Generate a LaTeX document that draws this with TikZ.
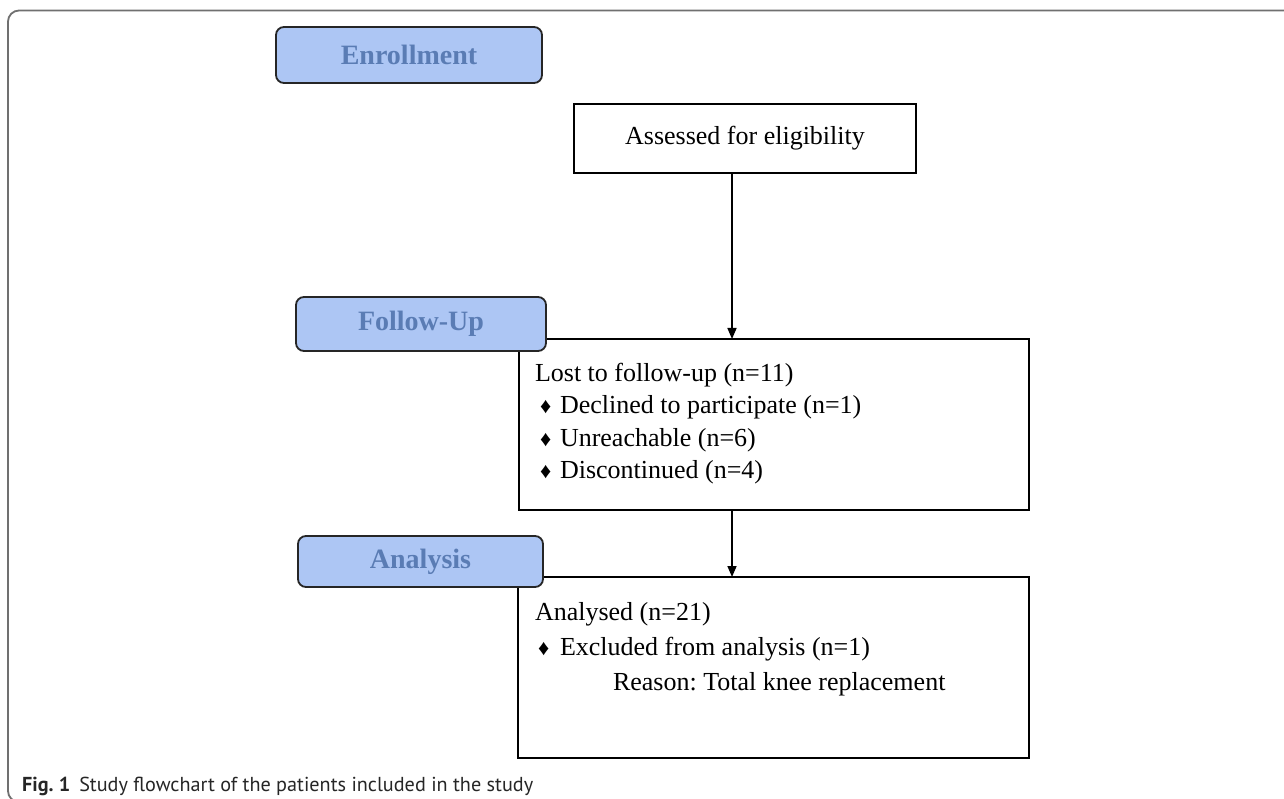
\documentclass[tikz,border=0pt]{standalone}
\usepackage{fontspec}
\setmainfont{Liberation Serif}
\newfontfamily\capfont{PT Sans}
\usetikzlibrary{arrows.meta}
\definecolor{pillfill}{RGB}{173,198,244}
\definecolor{pilltext}{RGB}{90,124,180}
\definecolor{framegray}{RGB}{112,112,112}
\newcommand{\dmd}{{\fontsize{22}{22}\selectfont ♦}}
\frenchspacing
\begin{document}
\begin{tikzpicture}[x=1pt,y=-1pt,
  pill/.style={draw=black!85, line width=1.8pt, fill=pillfill, rounded corners=8pt,
    inner sep=0pt, outer sep=0pt, anchor=north west, text=pilltext,
    font=\fontsize{28}{30}\selectfont\bfseries},
  box/.style={draw=black, line width=1.6pt, fill=white, inner sep=0pt, outer sep=0pt,
    anchor=north west, font=\fontsize{26}{30}\selectfont},
  txt/.style={inner sep=0pt, outer sep=0pt, anchor=base west, font=\fontsize{26}{30}\selectfont},
  arr/.style={line width=1.6pt, -{Triangle[length=11pt,width=9pt]}}]
\useasboundingbox (0,0) rectangle (1284,799);
\fill[white] (0,0) rectangle (1284,799);
% outer frame
\draw[framegray, line width=1.8pt, rounded corners=11pt] (8,10.5) rectangle (1310,802);
% boxes
\node[box, minimum width=342pt, minimum height=69pt] (assess) at (574,104) {Assessed for eligibility};
\node[box, minimum width=510pt, minimum height=171pt] (fubox) at (519,339) {};
\node[box, minimum width=511pt, minimum height=181pt] (anbox) at (518,577) {};
% pills
\node[pill, minimum width=266pt, minimum height=56pt] (enr) at (276,27) {Enrollment};
\node[pill, minimum width=250pt, minimum height=54pt] (fu) at (296,297) {Follow-Up};
\node[pill, minimum width=245pt, minimum height=51pt] (an) at (298,536) {Analysis};
% arrows
\coordinate (ax) at (732,0);
\draw[arr] (assess.south -| ax) -- (fubox.north -| ax);
\draw[arr] (fubox.south -| ax) -- (anbox.north -| ax);
% follow-up text
\node[txt] (l1) at (535,381) {Lost to follow-up (n=11)};
\node[txt] (l2) at (540,413.5) {\makebox[20pt][l]{\dmd}Declined to participate (n=1)};
\node[txt] (l3) at (540,446) {\makebox[20pt][l]{\dmd}Unreachable (n=6)};
\node[txt] (l4) at (540,478.5) {\makebox[20pt][l]{\dmd}Discontinued (n=4)};
% analysis text
\node[txt] (a1) at (535,620) {Analysed (n=21)};
\node[txt] (a2) at (538,655) {\makebox[22pt][l]{\dmd}Excluded from analysis (n=1)};
\node[txt] (a3) at (613,690) {Reason: Total knee replacement};
% caption
\node[inner sep=0pt, anchor=base west, text=black!85, font=\capfont\fontsize{20.2}{23}\selectfont] (cap) at (22,791)
  {\textbf{Fig. 1}\hspace{9pt}Study flowchart of the patients included in the study};
\end{tikzpicture}
\end{document}
